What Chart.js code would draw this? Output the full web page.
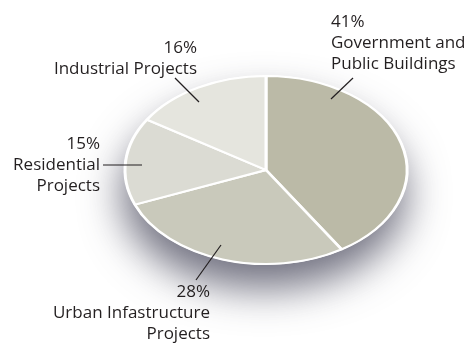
<!DOCTYPE html>
<html lang="en">
<head>
<meta charset="UTF-8">
<title>Project Mix</title>
<script src="https://cdn.jsdelivr.net/npm/chart.js"></script>
<style>
    body {
        margin: 0;
        background: #ffffff;
    }
    #wrap {
        width: 468px;
        height: 344px;
    }
</style>
</head>
<body>
<div id="wrap">
    <canvas id="pie" width="468" height="344"></canvas>
</div>
<script>
    // share of work by sector, clockwise from 12 o'clock
    const sectors = [
        ["Government and", "Public Buildings"],
        ["Urban Infastructure", "Projects"],
        ["Residential", "Projects"],
        ["Industrial Projects"]
    ];
    const shares = [41, 28, 15, 16];
    const sliceColors = ["#bbbaa7", "#c9c9bb", "#dbdbd3", "#e5e5de"];

    // where each callout sits: text anchor, alignment, first line y, leader line
    const callouts = [
        { x: 331, y: 22,  align: "left",  line: [353, 78, 331, 99] },
        { x: 210, y: 292, align: "right", line: [196, 280, 221, 245] },
        { x: 100, y: 144, align: "right", line: [103, 165, 142, 165] },
        { x: 197, y: 48,  align: "right", line: [175, 78, 199, 102] }
    ];

    const TILT = 0.667;
    const LINE_H = 21;
    const FONT = "17px 'Open Sans', sans-serif";

    // squash the pie into an ellipse and put a soft shadow under it
    const tiltPlugin = {
        id: "tilt",
        beforeDatasetsDraw(chart) {
            const arc = chart.getDatasetMeta(0).data[0];
            const ctx = chart.ctx;
            const cx = arc.x, cy = arc.y, r = arc.outerRadius;
            ctx.save();
            ctx.translate(cx, cy);
            ctx.scale(1, TILT);
            ctx.translate(-cx, -cy);

            ctx.save();
            ctx.shadowColor = "rgba(60, 60, 80, 0.72)";
            ctx.shadowBlur = 40;
            ctx.shadowOffsetX = -2;
            ctx.shadowOffsetY = 24;
            ctx.fillStyle = "#ffffff";
            ctx.beginPath();
            ctx.arc(cx, cy, r + 1, 0, Math.PI * 2);
            ctx.fill();
            ctx.restore();
        },
        afterDatasetsDraw(chart) {
            chart.ctx.restore();
        }
    };

    // percentage + sector name with a short leader line
    const calloutPlugin = {
        id: "callouts",
        afterDraw(chart) {
            const ctx = chart.ctx;
            ctx.save();
            ctx.font = FONT;
            ctx.fillStyle = "#231f20";
            ctx.strokeStyle = "#231f20";
            ctx.lineWidth = 1.2;
            ctx.textBaseline = "middle";
            callouts.forEach((c, i) => {
                const lines = [shares[i] + "%"].concat(sectors[i]);
                ctx.textAlign = c.align;
                lines.forEach((t, k) => ctx.fillText(t, c.x, c.y + k * LINE_H));
                ctx.beginPath();
                ctx.moveTo(c.line[0], c.line[1]);
                ctx.lineTo(c.line[2], c.line[3]);
                ctx.stroke();
            });
            ctx.restore();
        }
    };

    new Chart(document.getElementById("pie"), {
        type: "pie",
        data: {
            labels: sectors.map(s => s.join(" ")),
            datasets: [{
                data: shares,
                backgroundColor: sliceColors,
                borderColor: "#ffffff",
                borderWidth: 3,
                clip: false
            }]
        },
        options: {
            responsive: false,
            animation: false,
            radius: 141,
            layout: { padding: { left: 64, right: 0, top: 0, bottom: 4 } },
            plugins: {
                legend: { display: false },
                tooltip: { enabled: false }
            }
        },
        plugins: [tiltPlugin, calloutPlugin]
    });
</script>
</body>
</html>
